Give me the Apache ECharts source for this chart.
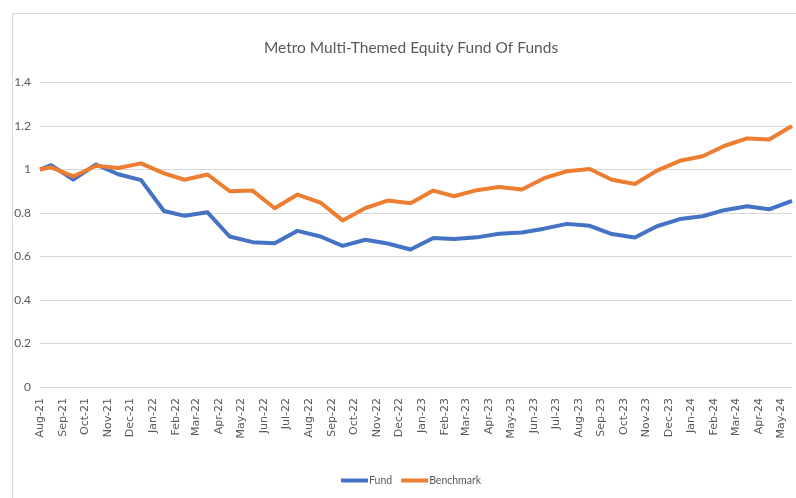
<!DOCTYPE html>
<html>
<head>
<meta charset="utf-8">
<script src="https://cdn.jsdelivr.net/npm/echarts@6/dist/echarts.min.js"></script>
<style>
html,body{margin:0;padding:0;background:#fff;}
#chart{width:796px;height:498px;}
</style>
</head>
<body>
<div id="chart"></div>
<script>
// Observation dates (inception, then month-ends)
var dates = ['2021-08-16','2021-08-31','2021-09-30','2021-10-31','2021-11-30','2021-12-31',
  '2022-01-31','2022-02-28','2022-03-31','2022-04-30','2022-05-31','2022-06-30',
  '2022-07-31','2022-08-31','2022-09-30','2022-10-31','2022-11-30','2022-12-31',
  '2023-01-31','2023-02-28','2023-03-31','2023-04-30','2023-05-31','2023-06-30',
  '2023-07-31','2023-08-31','2023-09-30','2023-10-31','2023-11-30','2023-12-31',
  '2024-01-31','2024-02-29','2024-03-31','2024-04-30','2024-05-31'];
var fund = [1.00,1.02,0.954,1.023,0.978,0.951,
  0.809,0.787,0.803,0.692,0.666,0.661,
  0.718,0.692,0.649,0.677,0.660,0.632,
  0.685,0.680,0.688,0.705,0.710,0.728,
  0.750,0.741,0.703,0.687,0.739,0.772,
  0.785,0.813,0.831,0.817,0.856];
var benchmark = [1.00,1.01,0.968,1.017,1.007,1.028,
  0.982,0.953,0.977,0.900,0.903,0.822,
  0.885,0.848,0.766,0.823,0.857,0.845,
  0.903,0.877,0.905,0.920,0.908,0.960,
  0.992,1.002,0.953,0.933,0.995,1.040,
  1.061,1.108,1.143,1.138,1.200];
var tickLabels = ['Aug-21','Sep-21','Oct-21','Nov-21','Dec-21','Jan-22','Feb-22','Mar-22','Apr-22',
  'May-22','Jun-22','Jul-22','Aug-22','Sep-22','Oct-22','Nov-22','Dec-22','Jan-23','Feb-23',
  'Mar-23','Apr-23','May-23','Jun-23','Jul-23','Aug-23','Sep-23','Oct-23','Nov-23','Dec-23',
  'Jan-24','Feb-24','Mar-24','Apr-24','May-24'];

var MONTHS = ['Jan','Feb','Mar','Apr','May','Jun','Jul','Aug','Sep','Oct','Nov','Dec'];
var DAY = 86400000;
function toDays(s){ var p = s.split('-'); return Date.UTC(+p[0], +p[1]-1, +p[2]) / DAY; }
function labelDays(l){ var p = l.split('-'); return Date.UTC(2000 + (+p[1]), MONTHS.indexOf(p[0]), 16) / DAY; }
var t0 = toDays(dates[0]);
var tickX = tickLabels.map(function(l){ return labelDays(l) - t0; });
var labelMap = {};
tickX.forEach(function(t,i){ labelMap[t] = tickLabels[i]; });

var fundData = dates.map(function(d,i){ return [toDays(d) - t0, fund[i]]; });
var benchData = dates.map(function(d,i){ return [toDays(d) - t0, benchmark[i]]; });
var xMax = toDays(dates[dates.length-1]) - t0;

var UI_FONT = "Lato, 'Open Sans', sans-serif";

var chart = echarts.init(document.getElementById('chart'), null, {renderer:'canvas'});
chart.setOption({
  animation:false,
  backgroundColor:'#ffffff',
  graphic:[{
    type:'rect', left:10, top:11, silent:true, z:-10,
    shape:{width:900, height:600},
    style:{fill:'none', stroke:'#d9d9d9', lineWidth:1}
  }],
  title:{
    text:'Metro Multi-Themed Equity Fund Of Funds',
    left:406, top:35, textAlign:'center',
    textStyle:{fontFamily:UI_FONT, fontSize:15.5, fontWeight:'normal', color:'#595959'}
  },
  legend:{
    bottom:12, left:341, padding:0,
    itemWidth:27, itemHeight:4, itemGap:9,
    icon:'rect',
    textStyle:{fontFamily:UI_FONT, fontSize:10.5, color:'#595959', padding:[0,0,0,-4]},
    data:['Fund','Benchmark']
  },
  grid:{left:40, right:4, top:82.5, bottom:111, containLabel:false},
  xAxis:{
    type:'value',
    min:0, max:xMax,
    axisLine:{show:false},
    axisTick:{show:false},
    splitLine:{show:false},
    axisLabel:{
      customValues:tickX,
      rotate:90, margin:11,
      fontFamily:'DejaVu Sans', fontSize:11, color:'#595959',
      formatter:function(v){ return labelMap[v] || ''; }
    }
  },
  yAxis:{
    type:'value', min:0, max:1.4, interval:0.2,
    axisLine:{show:false}, axisTick:{show:false},
    splitLine:{lineStyle:{color:'#d9d9d9', width:1}},
    axisLabel:{
      margin:9, fontFamily:UI_FONT, fontSize:12, color:'#595959',
      formatter:function(v){ return String(Math.round(v*10)/10); }
    }
  },
  series:[
    {name:'Fund', type:'line', data:fundData, showSymbol:false, symbol:'none',
      lineStyle:{color:'#4472C4', width:4, join:'round'}, itemStyle:{color:'#4472C4'}},
    {name:'Benchmark', type:'line', data:benchData, showSymbol:false, symbol:'none',
      lineStyle:{color:'#ED7D31', width:4, join:'round'}, itemStyle:{color:'#ED7D31'}}
  ]
});
</script>
</body>
</html>
